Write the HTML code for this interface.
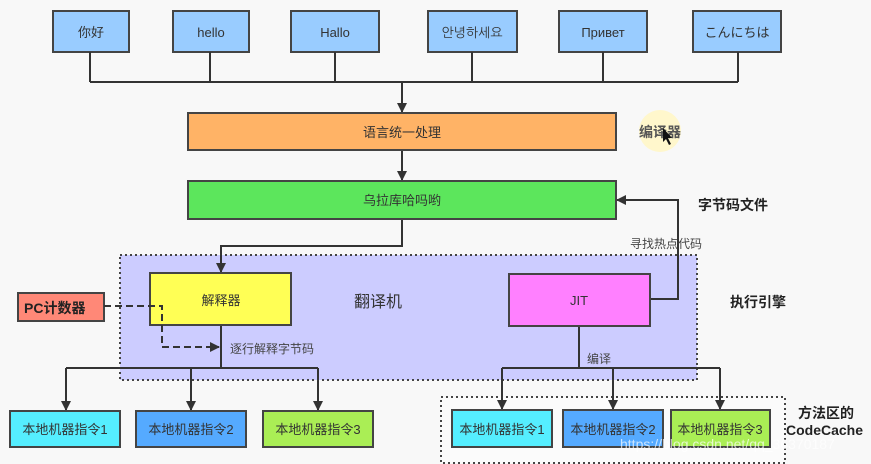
<!DOCTYPE html>
<html><head><meta charset="utf-8"><style>
html,body{margin:0;padding:0;background:#f8f8f8;}
svg{display:block;font-family:"Liberation Sans","Noto Sans CJK SC",sans-serif;}
</style></head><body>
<svg width="871" height="464" viewBox="0 0 871 464" xmlns="http://www.w3.org/2000/svg">
<defs>
<marker id="a" markerWidth="10" markerHeight="10" refX="9" refY="5" orient="auto" markerUnits="userSpaceOnUse"><path d="M0,0 L10,5 L0,10 z" fill="#333"/></marker>
</defs>
<rect width="871" height="464" fill="#f8f8f8"/>
<rect x="120" y="255" width="577" height="125" fill="#ccccff" stroke="#444" stroke-width="2" stroke-dasharray="2,3"/>
<rect x="441" y="397" width="344" height="66" fill="#fbfbfb" stroke="#444" stroke-width="2" stroke-dasharray="2,3"/>
<circle cx="660" cy="131" r="21" fill="#fff7cc"/>
<g fill="#99ccff" stroke="#444" stroke-width="2">
<rect x="53" y="11" width="76" height="41"/><rect x="173" y="11" width="76" height="41"/><rect x="291" y="11" width="88" height="41"/>
<rect x="428" y="11" width="89" height="41"/><rect x="559" y="11" width="88" height="41"/><rect x="693" y="11" width="88" height="41"/>
</g>
<g fill="none" stroke="#333" stroke-width="2">
<path d="M90 52V82M210 52V82M335 52V82M472 52V82M603 52V82M738 52V82M90 82H738"/>
<path d="M402 82V112" marker-end="url(#a)"/>
<path d="M402 150V180" marker-end="url(#a)"/>
<path d="M402 219V246H221V272" marker-end="url(#a)"/>
<path d="M650 299H678V200H617" marker-end="url(#a)"/>
<path d="M221 325V368M66 368H318"/>
<path d="M66 368V410" marker-end="url(#a)"/><path d="M191 368V410" marker-end="url(#a)"/><path d="M318 368V410" marker-end="url(#a)"/>
<path d="M579 326V368M502 368H720"/>
<path d="M502 368V409" marker-end="url(#a)"/><path d="M613 368V409" marker-end="url(#a)"/><path d="M720 368V409" marker-end="url(#a)"/>
</g>
<rect x="188" y="113" width="428" height="37" fill="#ffb366" stroke="#444" stroke-width="2"/>
<rect x="188" y="181" width="428" height="38" fill="#5ce65c" stroke="#444" stroke-width="2"/>
<rect x="150" y="273" width="141" height="52" fill="#ffff55" stroke="#444" stroke-width="2"/>
<rect x="509" y="274" width="141" height="52" fill="#ff80ff" stroke="#444" stroke-width="2"/>
<rect x="18" y="293" width="86" height="28" fill="#ff8877" stroke="#444" stroke-width="2"/>
<path d="M104 306H162V347H219" fill="none" stroke="#333" stroke-width="2" stroke-dasharray="7,4" marker-end="url(#a)"/>
<g stroke="#444" stroke-width="2">
<rect x="10" y="411" width="110" height="36" fill="#55eeff"/>
<rect x="136" y="411" width="110" height="36" fill="#55aaff"/>
<rect x="263" y="411" width="110" height="36" fill="#aaee55"/>
<rect x="452" y="410" width="100" height="37" fill="#55eeff"/>
<rect x="563" y="410" width="100" height="37" fill="#55aaff"/>
<rect x="671" y="410" width="99" height="37" fill="#aaee55"/>
</g>
<g font-size="13" fill="#333" text-anchor="middle">
<text x="91" y="37">你好</text><text x="211" y="37">hello</text><text x="335" y="37">Hallo</text>
<text x="472" y="37" font-family="NanumGothic,sans-serif">안녕하세요</text><text x="603" y="37">Привет</text><text x="737" y="37" font-family="'Noto Sans CJK JP',sans-serif">こんにちは</text>
<text x="402" y="137">语言统一处理</text>
<text x="402" y="205">乌拉库哈吗哟</text>
<text x="221" y="305">解释器</text>
<text x="579" y="305">JIT</text>
<text x="378" y="307" font-size="16">翻译机</text>
<text x="65" y="434">本地机器指令1</text><text x="191" y="434">本地机器指令2</text><text x="318" y="434">本地机器指令3</text>
<text x="502" y="434">本地机器指令1</text><text x="613" y="434">本地机器指令2</text><text x="720" y="434">本地机器指令3</text>
</g>
<g font-size="12" fill="#444">
<text x="230" y="353">逐行解释字节码</text>
<text x="587" y="363">编译</text>
<text x="630" y="248">寻找热点代码</text>
</g>
<g font-size="14" font-weight="bold" fill="#222">
<text x="24" y="313">PC计数器</text>
<text x="639" y="137" fill="#555">编译器</text>
<text x="698" y="210">字节码文件</text>
<text x="730" y="307">执行引擎</text>
<text x="798" y="418">方法区的</text>
<text x="786" y="435">CodeCache</text>
</g>
<path d="M663 128l0 14 3-3 3 6 2-1-3-6 4 0z" fill="#111"/>
<text x="620" y="449" font-size="14" fill="#ffffff" fill-opacity="0.7">https://blog.csdn.net/qq_36370187</text>
</svg>
</body></html>
